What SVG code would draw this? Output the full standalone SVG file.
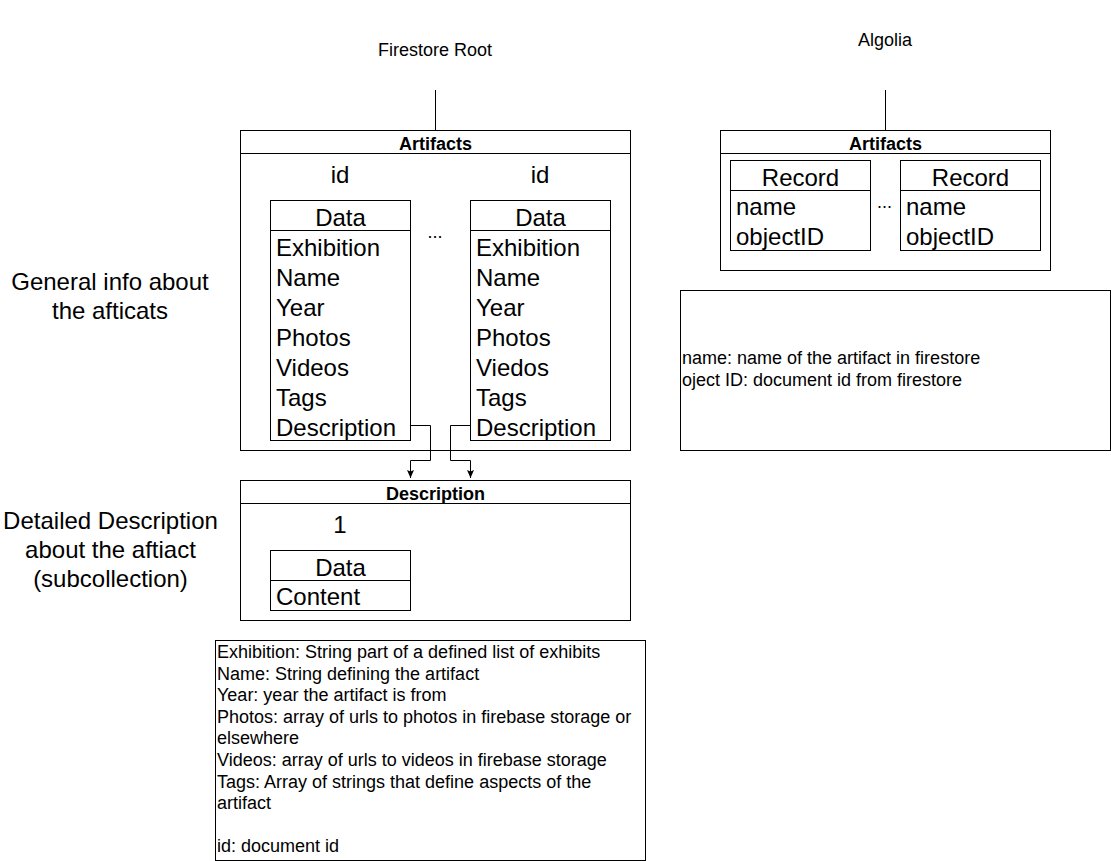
<svg xmlns="http://www.w3.org/2000/svg" width="1111" height="861" viewBox="0 0 1111 861">
<defs>
<style>
.box{fill:#fff;stroke:#000;stroke-width:1}
.ln{fill:none;stroke:#000;stroke-width:1}
.t{font-family:"Liberation Sans",Arial,sans-serif;fill:#000}
.f{font-size:24px}
.s{font-size:18px}
.b{font-size:18px;font-weight:bold}
.c{text-anchor:middle}
</style>
<marker id="arr" markerUnits="userSpaceOnUse" viewBox="0 0 8 8" markerWidth="8" markerHeight="8" refX="8" refY="4" orient="auto">
<path d="M0,0.5 L8,4 L0,7.5 L1.5,4 z" fill="#000"/>
</marker>
</defs>
<rect width="1111" height="861" fill="#fff"/>

<g id="firestore-root">
<text class="t s c" x="435" y="56">Firestore Root</text>
</g>
<g id="algolia">
<text class="t s c" x="885" y="46">Algolia</text>
</g>

<g id="label-general">
<text class="t f c" x="110" y="289.5">General info about</text>
<text class="t f c" x="110" y="318.5">the afticats</text>
</g>
<g id="label-detailed">
<text class="t f c" x="110.5" y="529">Detailed Description</text>
<text class="t f c" x="110.5" y="558">about the aftiact</text>
<text class="t f c" x="110.5" y="587">(subcollection)</text>
</g>

<g id="fs-artifacts">
<rect class="box" x="240.5" y="130.5" width="390" height="320"/>
<line class="ln" x1="240.5" y1="153.5" x2="630.5" y2="153.5"/>
<text class="t b c" x="435.5" y="150">Artifacts</text>
<text class="t f c" x="340" y="183">id</text>
<text class="t f c" x="540" y="183">id</text>
<text class="t s c" x="435" y="238">...</text>
</g>

<g id="data-left">
<rect class="box" x="270.5" y="200.5" width="140" height="240"/>
<line class="ln" x1="270.5" y1="230.5" x2="410.5" y2="230.5"/>
<text class="t f c" x="340.5" y="226">Data</text>
<text class="t f" x="276" y="256">Exhibition</text>
<text class="t f" x="276" y="286">Name</text>
<text class="t f" x="276" y="316">Year</text>
<text class="t f" x="276" y="346">Photos</text>
<text class="t f" x="276" y="376">Videos</text>
<text class="t f" x="276" y="406">Tags</text>
<text class="t f" x="276" y="436">Description</text>
</g>

<g id="data-right">
<rect class="box" x="470.5" y="200.5" width="140" height="240"/>
<line class="ln" x1="470.5" y1="230.5" x2="610.5" y2="230.5"/>
<text class="t f c" x="540.5" y="226">Data</text>
<text class="t f" x="476" y="256">Exhibition</text>
<text class="t f" x="476" y="286">Name</text>
<text class="t f" x="476" y="316">Year</text>
<text class="t f" x="476" y="346">Photos</text>
<text class="t f" x="476" y="376">Viedos</text>
<text class="t f" x="476" y="406">Tags</text>
<text class="t f" x="476" y="436">Description</text>
</g>

<g id="description">
<rect class="box" x="240.5" y="480.5" width="390" height="140"/>
<line class="ln" x1="240.5" y1="503.5" x2="630.5" y2="503.5"/>
<text class="t b c" x="435.5" y="499.5">Description</text>
<text class="t f c" x="340" y="533">1</text>
</g>

<g id="desc-data">
<rect class="box" x="270.5" y="550.5" width="140" height="60"/>
<line class="ln" x1="270.5" y1="580.5" x2="410.5" y2="580.5"/>
<text class="t f c" x="340.5" y="576">Data</text>
<text class="t f" x="276" y="605">Content</text>
</g>

<g id="fields-note">
<rect class="box" x="215.5" y="640.5" width="430" height="220"/>
<text class="t s" x="217" y="658">Exhibition: String part of a defined list of exhibits</text>
<text class="t s" x="217" y="679.6">Name: String defining the artifact</text>
<text class="t s" x="217" y="701.2">Year: year the artifact is from</text>
<text class="t s" x="217" y="722.8">Photos: array of urls to photos in firebase storage or</text>
<text class="t s" x="217" y="744.4">elsewhere</text>
<text class="t s" x="217" y="766">Videos: array of urls to videos in firebase storage</text>
<text class="t s" x="217" y="787.6">Tags: Array of strings that define aspects of the</text>
<text class="t s" x="217" y="809.2">artifact</text>
<text class="t s" x="217" y="852.4">id: document id</text>
</g>

<g id="algolia-artifacts">
<rect class="box" x="720.5" y="130.5" width="330" height="140"/>
<line class="ln" x1="720.5" y1="153.5" x2="1050.5" y2="153.5"/>
<text class="t b c" x="885.5" y="150">Artifacts</text>
<text class="t s c" x="884.5" y="208">...</text>
</g>

<g id="record-left">
<rect class="box" x="730.5" y="160.5" width="140" height="90"/>
<line class="ln" x1="730.5" y1="190.5" x2="870.5" y2="190.5"/>
<text class="t f c" x="800.5" y="186">Record</text>
<text class="t f" x="736" y="215">name</text>
<text class="t f" x="736" y="245">objectID</text>
</g>

<g id="record-right">
<rect class="box" x="900.5" y="160.5" width="140" height="90"/>
<line class="ln" x1="900.5" y1="190.5" x2="1040.5" y2="190.5"/>
<text class="t f c" x="970.5" y="186">Record</text>
<text class="t f" x="906" y="215">name</text>
<text class="t f" x="906" y="245">objectID</text>
</g>

<g id="algolia-note">
<rect class="box" x="680.5" y="290.5" width="430" height="160"/>
<text class="t s" x="682" y="364">name: name of the artifact in firestore</text>
<text class="t s" x="682" y="385.6">oject ID: document id from firestore</text>
</g>

<g id="connectors">
<line class="ln" x1="435.5" y1="90" x2="435.5" y2="130.5"/>
<line class="ln" x1="885.5" y1="90" x2="885.5" y2="130.5"/>
<path class="ln" d="M410.5,425.5 H430.5 V460.5 H410.5 V478" marker-end="url(#arr)"/>
<path class="ln" d="M470.5,425.5 H450.5 V460.5 H470.5 V478" marker-end="url(#arr)"/>
</g>
</svg>
